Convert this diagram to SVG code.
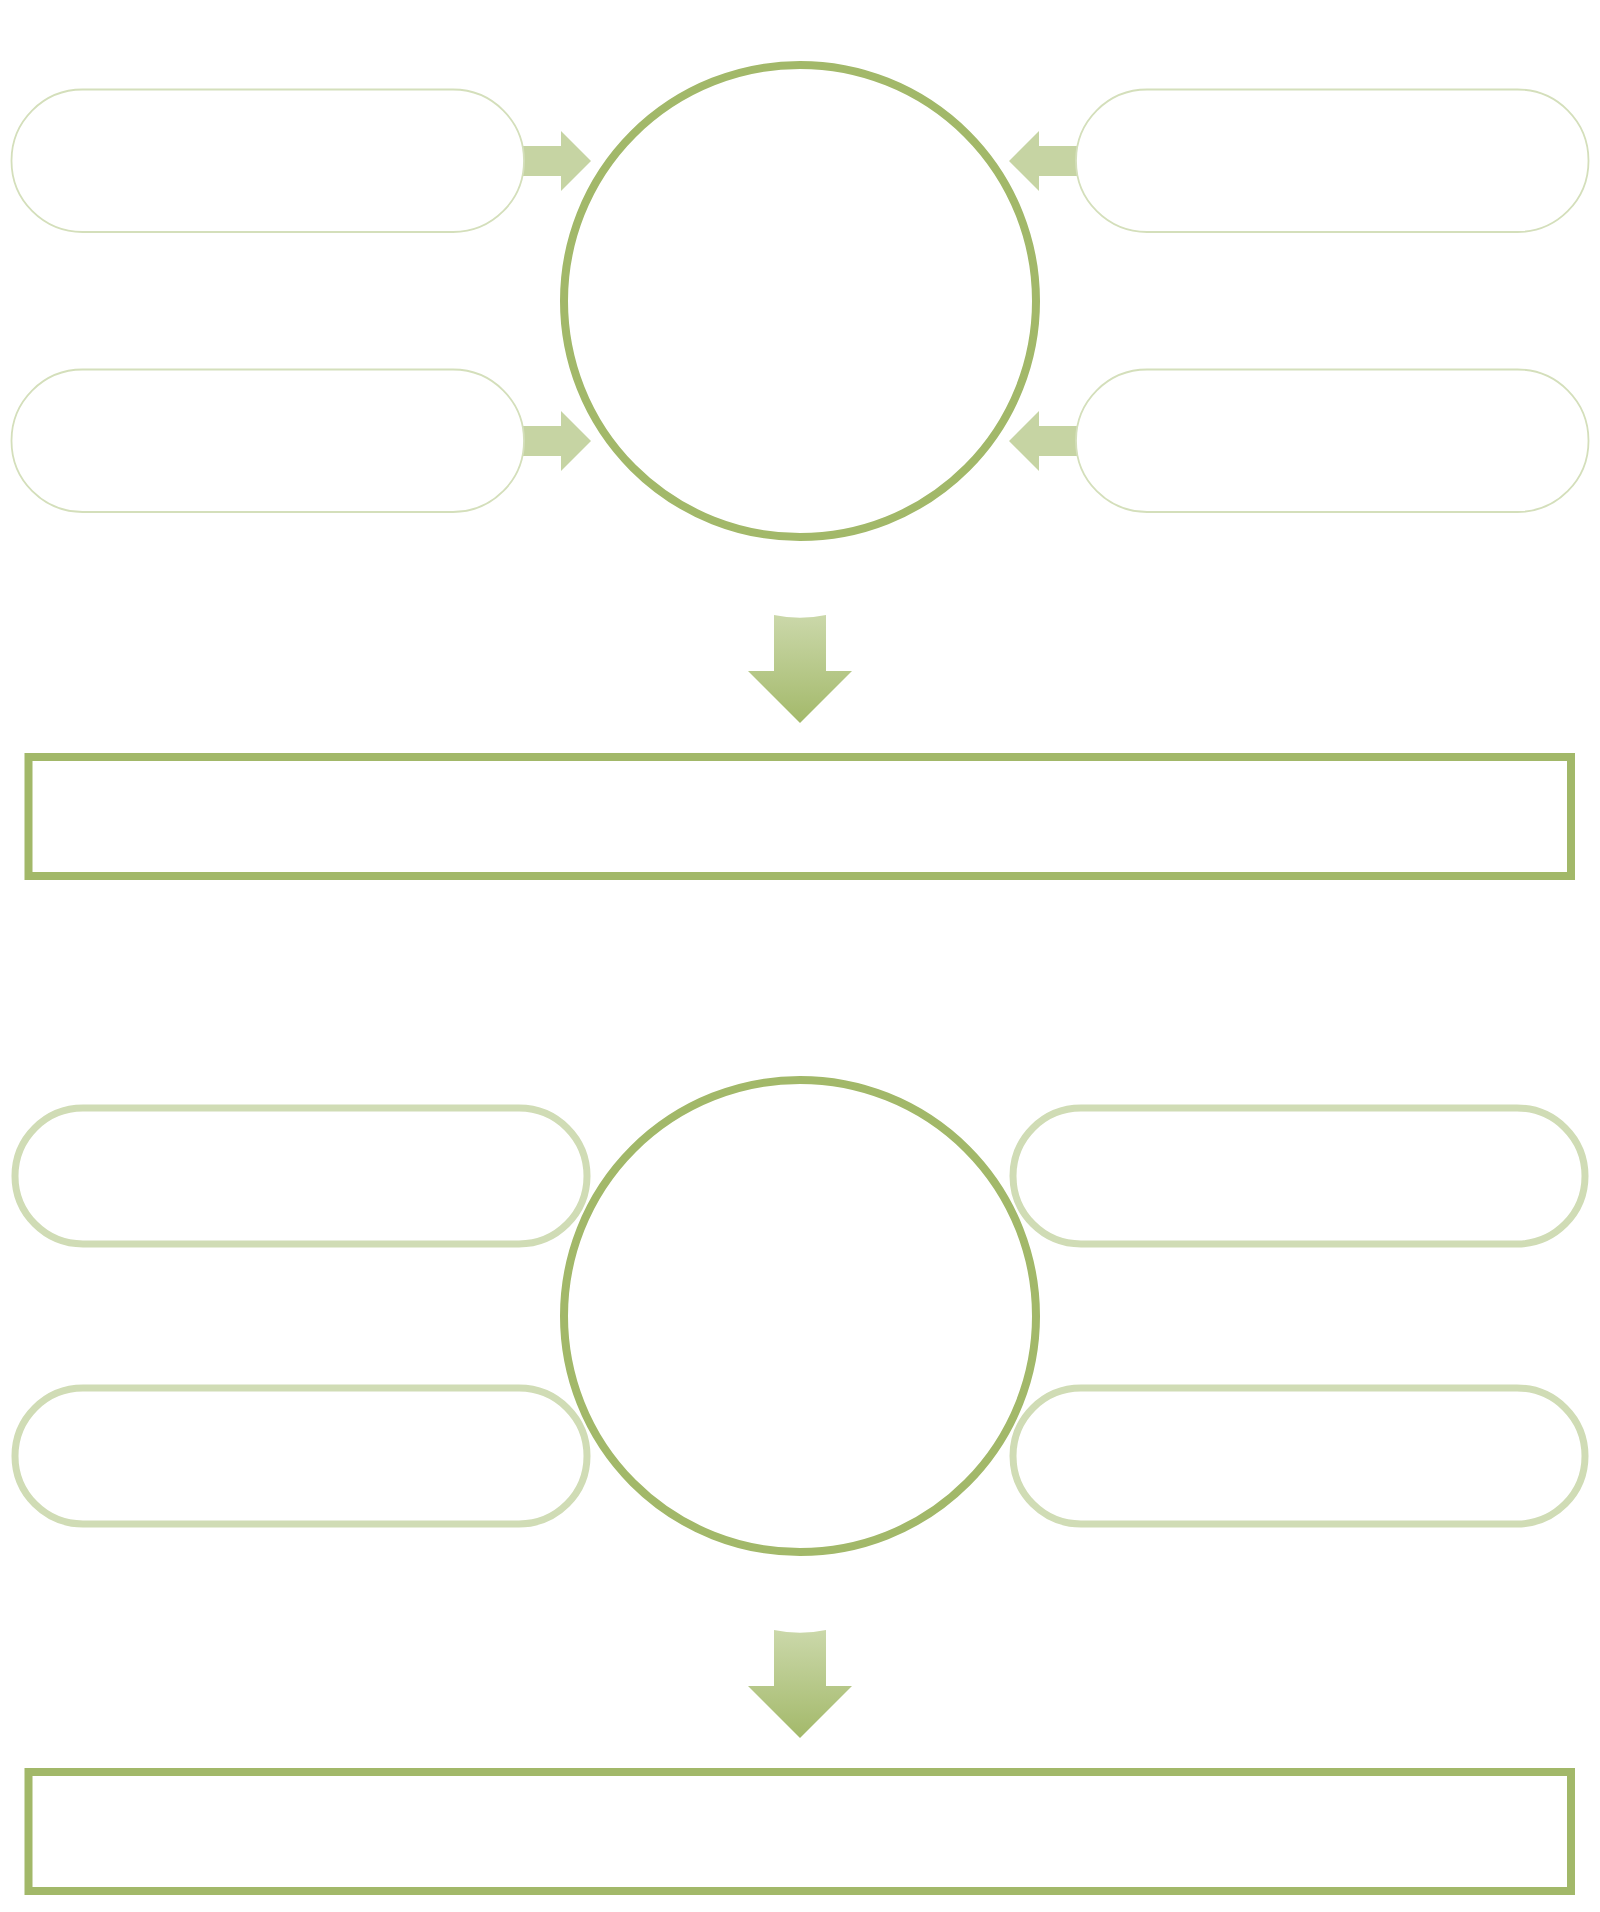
<svg xmlns="http://www.w3.org/2000/svg" width="1600" height="1912" viewBox="0 0 1600 1912">
  <defs>
    <linearGradient id="downGrad" x1="0" y1="0" x2="0" y2="1">
      <stop offset="0" stop-color="#cbd8aa"/>
      <stop offset="1" stop-color="#a3b96a"/>
    </linearGradient>
    <style>
      .pillThin { fill: #ffffff; stroke: #d4dfbb; stroke-width: 1.8; }
      .pillThick { fill: #ffffff; stroke: #d0dcb5; stroke-width: 7; }
      .hub { fill: #ffffff; stroke: #a2b869; stroke-width: 8; }
      .result { fill: #ffffff; stroke: #a2b869; stroke-width: 8; }
      .sideArrow { fill: #c6d4a3; }
      .downArrow { fill: url(#downGrad); }
    </style>
  </defs>
  <rect x="0" y="0" width="1600" height="1912" fill="#ffffff"/>

  <g id="connectors">
    <path class="sideArrow" d="M520,146 H561 V131 L591,161 L561,191 V176 H520 Z"/>
    <path class="sideArrow" d="M520,426 H561 V411 L591,441 L561,471 V456 H520 Z"/>
    <path class="sideArrow" d="M1080,146 H1039 V131 L1009,161 L1039,191 V176 H1080 Z"/>
    <path class="sideArrow" d="M1080,426 H1039 V411 L1009,441 L1039,471 V456 H1080 Z"/>
    <path class="downArrow" d="M774,615 Q800,620.5 826,615 V671 H852 L800,723 L748,671 H774 Z"/>
    <path class="downArrow" d="M774,1630 Q800,1635.5 826,1630 V1686 H852 L800,1738 L748,1686 H774 Z"/>
  </g>

  <g id="hub1"><circle class="hub" cx="800" cy="301" r="236"/></g>
  <g id="pill-tl"><rect class="pillThin" x="11.5" y="89.5" width="512.5" height="142.5" rx="71" ry="71"/></g>
  <g id="pill-bl"><rect class="pillThin" x="11.5" y="369.5" width="512.5" height="142.5" rx="71" ry="71"/></g>
  <g id="pill-tr"><rect class="pillThin" x="1076" y="89.5" width="512.5" height="142.5" rx="71" ry="71"/></g>
  <g id="pill-br"><rect class="pillThin" x="1076" y="369.5" width="512.5" height="142.5" rx="71" ry="71"/></g>
  <g id="result1"><rect class="result" x="28.5" y="757" width="1542.5" height="119"/></g>

  <g id="hub2"><circle class="hub" cx="800" cy="1316" r="236"/></g>
  <g id="pill2-tl"><rect class="pillThick" x="15" y="1108" width="572" height="136" rx="68" ry="68"/></g>
  <g id="pill2-bl"><rect class="pillThick" x="15" y="1388" width="572" height="136" rx="68" ry="68"/></g>
  <g id="pill2-tr"><rect class="pillThick" x="1013" y="1108" width="572" height="136" rx="68" ry="68"/></g>
  <g id="pill2-br"><rect class="pillThick" x="1013" y="1388" width="572" height="136" rx="68" ry="68"/></g>
  <g id="result2"><rect class="result" x="28.5" y="1772" width="1542.5" height="119"/></g>
</svg>
